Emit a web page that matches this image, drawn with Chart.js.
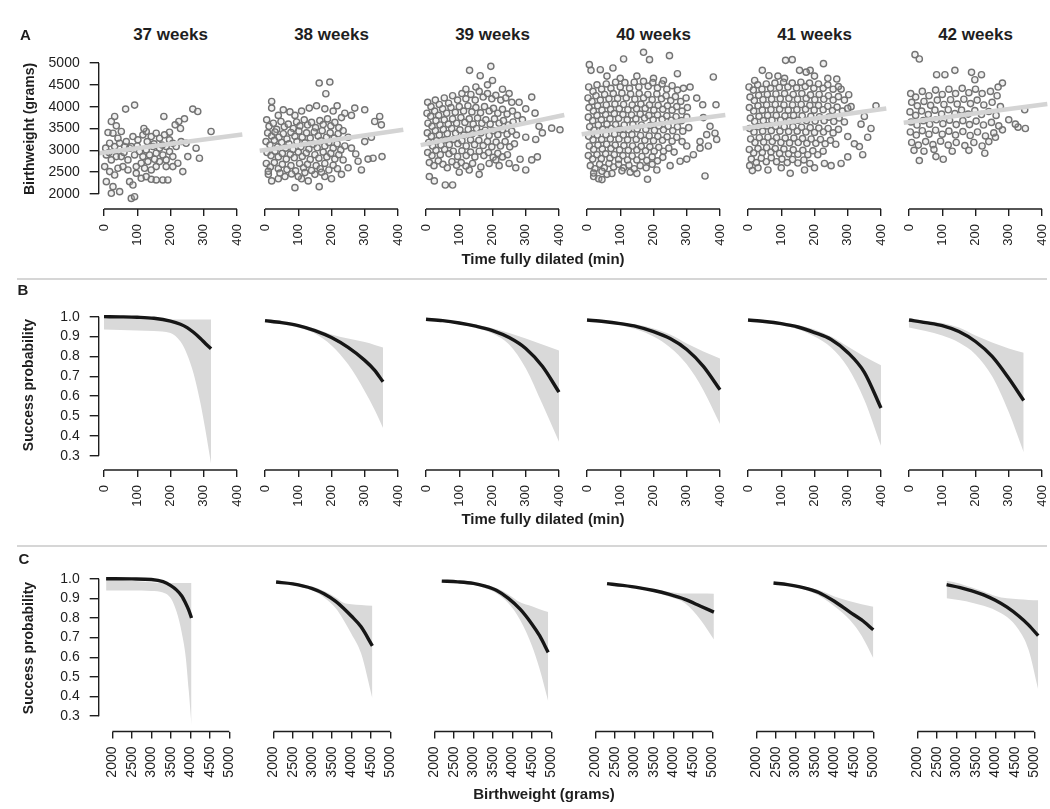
<!DOCTYPE html>
<html>
<head>
<meta charset="utf-8">
<script src="https://cdn.jsdelivr.net/npm/chart.js@4.4.0/dist/chart.umd.min.js"></script>
<style>
  body { margin: 0; width: 1050px; height: 809px; position: relative; overflow: hidden; background: #fff;
         font-family: "Liberation Sans", Arial, Helvetica, sans-serif; color: #1e1e1e; }
  .lbl { position: absolute; font-weight: bold; white-space: nowrap; line-height: 1; }
  .sep { position: absolute; left: 17px; width: 1030px; height: 2px; background: #d6d6d6; }
</style>
</head>
<body>
<div class="sep" style="top:278px"></div>
<div class="sep" style="top:545px"></div>
<script>
// ---- data ----
const weeks = ['37 weeks', '38 weeks', '39 weeks', '40 weeks', '41 weeks', '42 weeks'];
const timeTicks = [0, 100, 200, 300, 400];
const weightTicks = [2000, 2500, 3000, 3500, 4000, 4500, 5000];
const probTicks = [0.3, 0.4, 0.5, 0.6, 0.7, 0.8, 0.9, 1.0];

// panel A: time fully dilated (min) vs birthweight (g)
const pts37 = [[65,3944],[92,4036],[180,3776],[267,3944],[282,3890],[322,3431],[242,3722],[225,3660],[214,3584],[197,3416],
  [32,3776],[22,3660],[37,3561],[12,3408],[27,3393],[42,3278],[17,3163],[32,3087],[47,3163],[62,3087],[77,3049],[7,2895],
  [22,2781],[37,2857],[52,2857],[2,2628],[17,2513],[32,2436],[42,2590],[7,2283],[27,2169],[47,2054],[22,2016],[77,2283],
  [87,2207],[82,1900],[92,1939],[72,2551],[97,2474],[112,2360],[127,2398],[142,2337],[157,2322],[177,2322],[192,2322],
  [142,2551],[157,2628],[167,2742],[187,2781],[207,2857],[222,2704],[237,2513],[252,2857],[277,3049],[287,2819],
  [87,3316],[102,3240],[117,3355],[127,3431],[142,3316],[157,3393],[167,3278],[182,3355],[197,3240],[207,3163],[187,3087],
  [167,3049],[147,3087],[127,3010],[107,2972],[92,2895],[117,2857],[137,2895],[157,2934],[177,2895],[197,2972],[217,3087],
  [232,3202],[247,3163],[112,2704],[132,2742],[152,2796],[97,2628],[122,2590],[187,2628],[207,2628],[72,2781],[57,2628],
  [67,3202],[82,3087],[52,3431],[5,3050],[15,2950],[60,2950],[130,3200],[150,3150],[175,3120],[100,3100],[230,3500],[120,3500]];
const pts38 = [[163,4541],[195,4564],[183,4296],[20,4120],[20,3967],[55,3929],[133,3967],[155,4020],[217,4020],[270,3967],
  [300,3929],[345,3776],[330,3661],[350,3584],[110,3900],[75,3880],[90,3800],[40,3800],[180,3950],[205,3900],[240,3850],
  [260,3800],[230,3750],[325,2819],[352,2857],[290,2551],[273,2918],[163,2169],[90,2146],[20,2300],[10,2450],[40,2350],
  [60,2400],[110,2350],[130,2300],[150,2450],[180,2400],[200,2350],[230,2450],[250,2600],[310,2800],[280,2750],[260,3050],
  [300,3200],[320,3300],[250,3300],
  [5,3700],[12,3550],[25,3620],[35,3480],[48,3660],[58,3540],[70,3600],[85,3500],[95,3650],[105,3560],[118,3700],[128,3580],
  [140,3640],[152,3520],[165,3680],[175,3590],[188,3720],[198,3560],[210,3640],[222,3520],
  [8,3400],[20,3330],[30,3420],[42,3300],[55,3380],[66,3260],[78,3410],[90,3320],[102,3440],[112,3300],[125,3400],[136,3280],
  [148,3420],[160,3330],[172,3450],[185,3300],[196,3400],[208,3280],[220,3380],[235,3450],
  [3,3200],[15,3120],[28,3230],[38,3080],[50,3180],[62,3050],[72,3150],[84,3020],[96,3200],[108,3080],[120,3170],[132,3030],
  [145,3140],[157,3060],[168,3220],[180,3100],[192,3180],[205,3050],[217,3150],[228,3010],[240,3100],
  [6,2950],[18,2880],[30,2980],[40,2850],[52,2930],[64,2800],[76,2910],[88,2830],[100,2960],[112,2860],[124,2940],[136,2790],
  [150,2900],[162,2820],[175,2960],[186,2850],[198,2930],[210,2800],[222,2900],[235,2780],
  [4,2700],[16,2620],[28,2720],[40,2580],[52,2680],[66,2560],[78,2650],[92,2530],[104,2700],[116,2600],[128,2680],[140,2540],
  [154,2650],[166,2580],[180,2700],[192,2550],[205,2660],[218,2580],[10,2520],[45,2480],[80,2460],[120,2490],[170,2500],[100,2400]];
const pts39 = [[131,4832],[195,4923],[163,4709],[200,4600],[185,4500],[150,4450],[120,4400],[230,4400],[250,4300],[318,4219],
  [328,3852],[378,3508],[403,3470],[340,3550],[300,3950],[280,4100],[290,3700],[318,2781],[283,2796],[300,2550],[335,2850],
  [270,2600],[58,2207],[80,2207],[25,2300],[10,2400],[130,2550],[160,2450],[100,2500],[220,2650],[250,2700],[330,3250],
  [350,3400],[300,3300],
  [5,4100],[15,4000],[28,4150],[40,4050],[55,4200],[68,4080],[80,4250],[95,4150],[108,4300],[120,4180],[135,4280],[148,4150],
  [160,4350],[172,4220],[185,4300],[198,4180],[210,4260],[225,4150],[240,4200],[258,4100],
  [3,3850],[14,3780],[26,3900],[38,3800],[50,3950],[62,3850],[75,3980],[88,3870],[100,4000],[113,3900],[126,4020],[138,3880],
  [150,3980],[164,3860],[176,4000],[190,3900],[203,3960],[216,3850],[230,3940],[244,3830],[260,3900],[275,3800],
  [6,3620],[18,3550],[30,3680],[42,3580],[55,3700],[67,3600],[80,3720],[92,3620],[105,3750],[117,3640],[130,3720],[142,3600],
  [155,3740],[168,3620],[180,3700],[193,3600],[206,3720],[220,3620],[233,3680],[248,3580],[262,3650],
  [4,3400],[16,3320],[28,3450],[40,3350],[52,3480],[64,3380],[77,3500],[89,3390],[102,3470],[114,3350],[127,3480],[139,3380],
  [152,3500],[165,3400],[178,3460],[190,3340],[203,3450],[216,3360],[230,3470],[244,3370],[258,3440],[272,3350],
  [8,3180],[20,3100],[32,3220],[45,3120],[58,3240],[70,3130],[83,3250],[96,3150],[108,3220],[121,3100],[134,3240],[146,3130],
  [159,3230],[172,3110],[185,3200],[198,3080],[211,3190],[224,3100],[238,3200],[252,3080],[266,3150],
  [5,2950],[18,2880],[30,3000],[43,2900],[56,3020],[69,2920],[82,2980],[95,2860],[108,2990],[121,2880],[134,2960],[147,2850],
  [160,2980],[174,2880],[188,2950],[202,2840],[216,2930],[230,2850],[245,2900],
  [10,2720],[24,2650],[37,2760],[51,2680],[64,2600],[78,2740],[92,2660],[106,2720],[120,2640],[140,2700],[165,2620],[190,2700],[210,2780]];
const pts40 = [[7,4962],[12,4832],[40,4847],[78,4885],[110,5092],[170,5245],[188,5077],[248,5168],[272,4755],[380,4679],
  [310,4449],[330,4196],[348,4043],[388,4043],[350,3750],[370,3550],[385,3393],[360,3360],[340,3200],[355,2413],[182,2337],
  [20,2400],[35,2350],[45,2330],[60,2450],[130,2500],[150,2470],[210,2550],[250,2650],[280,2750],[300,2800],[320,2900],
  [340,3050],[365,3100],[390,3250],[300,3100],[100,4650],[150,4700],[200,4650],[230,4600],[60,4700],
  [5,4450],[18,4350],[30,4500],[44,4400],[58,4520],[72,4420],[86,4560],[100,4450],[114,4550],[128,4420],[142,4560],[156,4450],
  [170,4580],[184,4470],[198,4550],[212,4430],[226,4520],[240,4400],[256,4480],[272,4380],[290,4420],
  [3,4200],[15,4120],[27,4250],[40,4150],[53,4280],[66,4180],[79,4300],[92,4190],[105,4310],[118,4200],[131,4290],[144,4170],
  [157,4300],[170,4200],[183,4280],[196,4160],[210,4290],[224,4180],[238,4250],[252,4140],[266,4230],[282,4120],[298,4200],
  [6,3980],[19,3900],[32,4020],[45,3920],[58,4040],[71,3940],[84,4060],[97,3950],[110,4050],[123,3930],[136,4040],[149,3950],
  [162,4060],[175,3960],[188,4040],[201,3920],[214,4030],[228,3940],[242,4020],[256,3920],[270,4000],[286,3900],[302,3980],
  [4,3760],[17,3680],[30,3800],[43,3700],[56,3820],[69,3720],[82,3840],[95,3730],[108,3820],[121,3700],[134,3810],[147,3720],
  [160,3830],[173,3740],[186,3800],[199,3700],[212,3810],[226,3710],[240,3790],[254,3690],[268,3770],[284,3680],[300,3760],
  [8,3540],[21,3460],[34,3580],[47,3480],[60,3600],[73,3500],[86,3590],[99,3480],[112,3580],[125,3470],[138,3590],[151,3490],
  [164,3580],[177,3480],[190,3570],[203,3460],[216,3560],[230,3470],[244,3550],[258,3450],[272,3540],[288,3440],[306,3520],
  [5,3320],[18,3240],[31,3350],[44,3250],[57,3360],[70,3260],[83,3370],[96,3260],[109,3350],[122,3240],[135,3360],[148,3250],
  [161,3340],[174,3230],[187,3330],[200,3220],[213,3320],[227,3230],[241,3310],[256,3210],[270,3300],[286,3200],
  [7,3100],[20,3020],[33,3120],[46,3030],[59,3140],[72,3040],[85,3120],[98,3010],[111,3110],[124,3000],[137,3100],[150,3010],
  [163,3090],[176,2990],[189,3080],[202,2980],[216,3070],[230,2980],[246,3050],[262,2960],
  [4,2880],[17,2800],[30,2900],[43,2810],[56,2920],[69,2820],[82,2900],[95,2790],[108,2880],[122,2780],[136,2870],[150,2780],
  [165,2860],[180,2770],[196,2850],[212,2760],[228,2840],
  [10,2650],[24,2580],[38,2680],[52,2600],[66,2700],[80,2620],[95,2680],[110,2600],[126,2660],[142,2580],[160,2650],[178,2600],
  [196,2680],[20,2480],[45,2520],[75,2470],[105,2530]];
const pts41 = [[113,5061],[133,5077],[227,4985],[43,4832],[63,4709],[155,4832],[187,4832],[175,4790],[267,4633],[303,4273],
  [385,4020],[350,3776],[340,3600],[370,3500],[360,3300],[335,3087],[300,3316],[320,3150],[345,2900],[300,2850],[280,2700],
  [250,2650],[127,2474],[13,2536],[5,2650],[30,2600],[60,2550],[100,2600],[170,2550],[200,2600],[230,2700],[90,4700],
  [110,4650],[200,4700],[240,4650],[20,4600],[280,4400],[310,4000],
  [3,4450],[16,4380],[29,4500],[42,4400],[55,4520],[68,4420],[81,4540],[94,4440],[107,4560],[120,4450],[133,4540],[146,4430],
  [159,4560],[172,4460],[185,4540],[198,4420],[212,4520],[226,4420],[240,4500],[256,4400],[272,4460],
  [6,4220],[19,4140],[32,4260],[45,4160],[58,4280],[71,4170],[84,4290],[97,4180],[110,4300],[123,4190],[136,4280],[149,4170],
  [162,4300],[175,4190],[188,4270],[201,4160],[214,4280],[228,4170],[242,4250],[256,4150],[272,4230],[290,4150],
  [4,3980],[17,3900],[30,4020],[43,3920],[56,4040],[69,3930],[82,4050],[95,3940],[108,4040],[121,3920],[134,4040],[147,3930],
  [160,4050],[173,3940],[186,4030],[199,3920],[212,4030],[226,3930],[240,4010],[254,3910],[268,3990],[284,3900],[300,3960],
  [7,3740],[20,3660],[33,3780],[46,3680],[59,3800],[72,3690],[85,3800],[98,3690],[111,3790],[124,3680],[137,3800],[150,3690],
  [163,3790],[176,3680],[189,3780],[202,3670],[215,3770],[229,3680],[243,3760],[258,3660],[274,3740],[290,3650],
  [5,3500],[18,3420],[31,3540],[44,3440],[57,3560],[70,3450],[83,3550],[96,3440],[109,3540],[122,3430],[135,3540],[148,3440],
  [161,3530],[174,3420],[187,3520],[200,3410],[213,3510],[227,3420],[241,3500],[256,3400],[272,3480],
  [8,3260],[21,3180],[34,3290],[47,3190],[60,3300],[73,3200],[86,3290],[99,3180],[112,3280],[125,3170],[138,3280],[151,3180],
  [164,3270],[177,3160],[190,3260],[204,3160],[218,3250],[232,3150],[248,3230],[264,3140],
  [4,3020],[17,2940],[30,3040],[43,2950],[56,3060],[69,2960],[82,3040],[95,2930],[108,3030],[122,2920],[136,3010],[150,2910],
  [165,3000],[180,2900],[195,2990],[210,2900],[226,2980],
  [10,2800],[25,2720],[40,2820],[55,2740],[70,2830],[86,2740],[102,2800],[118,2720],[134,2790],[150,2710],[168,2780],[186,2700]];
const pts42 = [[18,5191],[31,5092],[83,4732],[108,4732],[138,4832],[188,4786],[218,4732],[198,4617],[281,4541],[268,4449],
  [348,3929],[328,3531],[350,3500],[281,3469],[228,2934],[31,2766],[81,2857],[103,2796],[240,3200],[260,3300],[300,3700],[320,3600],
  [5,4300],[20,4220],[40,4350],[60,4250],[80,4380],[100,4280],[120,4400],[140,4300],[160,4420],[180,4320],[200,4400],[220,4300],
  [245,4350],[265,4250],
  [8,4100],[25,4020],[45,4120],[65,4030],[85,4150],[105,4050],[125,4160],[145,4060],[165,4170],[185,4070],[205,4150],[225,4040],
  [250,4100],[275,4000],
  [3,3880],[20,3800],[38,3900],[58,3820],[78,3920],[98,3830],[118,3930],[138,3840],[158,3920],[178,3830],[198,3910],[218,3820],
  [240,3890],[262,3800],
  [6,3650],[24,3580],[43,3680],[62,3600],[82,3700],[102,3610],[122,3690],[142,3590],[162,3680],[182,3590],[202,3670],[224,3580],
  [248,3640],[270,3560],
  [4,3420],[22,3350],[40,3450],[60,3370],[80,3460],[100,3370],[120,3440],[140,3350],[162,3430],[184,3340],[206,3420],[230,3330],[255,3400],
  [8,3180],[28,3120],[50,3200],[72,3130],[95,3210],[118,3120],[142,3180],[168,3110],[195,3180],[220,3100],
  [15,3000],[45,2980],[75,3020],[130,2980],[180,3000]];
const scatterPts = [pts37, pts38, pts39, pts40, pts41, pts42];
// fitted regression line, evaluated at the two ends of the time range
const trendTime = [-16, 416];
const trendStart = [2935, 2990, 3120, 3370, 3500, 3630];
const trendEnd = [3365, 3470, 3810, 3810, 3960, 4060];

// panel B: success probability vs time fully dilated
const bTime = [
  [0, 50, 100, 150, 200, 230, 250, 270, 290, 305, 322],
  [0, 50, 100, 150, 200, 250, 300, 330, 355],
  [0, 50, 100, 150, 200, 250, 300, 350, 400],
  [0, 50, 100, 150, 200, 250, 300, 350, 400],
  [0, 50, 100, 150, 200, 250, 300, 350, 400],
  [0, 50, 100, 150, 200, 250, 300, 345]];
const bFit = [
  [1.0, 0.999, 0.997, 0.992, 0.978, 0.962, 0.945, 0.92, 0.89, 0.865, 0.838],
  [0.98, 0.97, 0.955, 0.93, 0.895, 0.845, 0.78, 0.73, 0.672],
  [0.987, 0.98, 0.968, 0.952, 0.93, 0.895, 0.84, 0.75, 0.62],
  [0.983, 0.976, 0.965, 0.95, 0.925, 0.89, 0.835, 0.75, 0.632],
  [0.983, 0.976, 0.965, 0.948, 0.92, 0.885, 0.82, 0.72, 0.54],
  [0.983, 0.97, 0.955, 0.925, 0.875, 0.8, 0.69, 0.578]];
const bUpper = [
  [0.999, 0.995, 0.99, 0.987, 0.986, 0.986, 0.986, 0.986, 0.986, 0.986, 0.986],
  [0.985, 0.975, 0.962, 0.94, 0.91, 0.89, 0.872, 0.858, 0.845],
  [0.99, 0.984, 0.974, 0.96, 0.942, 0.918, 0.89, 0.86, 0.83],
  [0.988, 0.982, 0.972, 0.96, 0.94, 0.91, 0.865, 0.825, 0.79],
  [0.988, 0.982, 0.972, 0.958, 0.935, 0.9, 0.85, 0.8, 0.755],
  [0.99, 0.98, 0.968, 0.945, 0.905, 0.87, 0.84, 0.818]];
const bLower = [
  [0.935, 0.933, 0.931, 0.928, 0.918, 0.875, 0.81, 0.71, 0.565, 0.43, 0.26],
  [0.97, 0.962, 0.945, 0.915, 0.855, 0.76, 0.625, 0.53, 0.44],
  [0.982, 0.975, 0.962, 0.943, 0.915, 0.86, 0.74, 0.56, 0.37],
  [0.978, 0.97, 0.957, 0.935, 0.9, 0.845, 0.76, 0.63, 0.46],
  [0.978, 0.97, 0.957, 0.937, 0.9, 0.845, 0.745, 0.58, 0.35],
  [0.946, 0.928, 0.905, 0.87, 0.81, 0.7, 0.52, 0.317]];

// panel C: success probability vs birthweight
const cWeight = [
  [1840, 2500, 3000, 3300, 3500, 3650, 3780, 3880, 3960, 4030],
  [2070, 2500, 3000, 3300, 3600, 3800, 4000, 4250, 4540],
  [2190, 2600, 3000, 3300, 3600, 3900, 4200, 4500, 4700, 4920],
  [2300, 2700, 3100, 3500, 3900, 4300, 4700, 5040],
  [2440, 2800, 3200, 3600, 4000, 4400, 4700, 5000],
  [2750, 3100, 3400, 3700, 4000, 4300, 4600, 4850, 5100]];
const cFit = [
  [1.0, 0.999, 0.996, 0.985, 0.965, 0.942, 0.912, 0.875, 0.84, 0.80],
  [0.983, 0.974, 0.95, 0.924, 0.885, 0.85, 0.81, 0.755, 0.658],
  [0.988, 0.984, 0.976, 0.962, 0.94, 0.9, 0.845, 0.77, 0.71, 0.625],
  [0.975, 0.966, 0.955, 0.94, 0.92, 0.895, 0.86, 0.83],
  [0.978, 0.97, 0.955, 0.93, 0.885, 0.83, 0.79, 0.74],
  [0.97, 0.955, 0.938, 0.918, 0.89, 0.855, 0.81, 0.765, 0.71]];
const cUpper = [
  [0.999, 0.99, 0.982, 0.978, 0.978, 0.978, 0.978, 0.978, 0.978, 0.978],
  [0.987, 0.98, 0.96, 0.937, 0.905, 0.878, 0.87, 0.866, 0.862],
  [0.99, 0.987, 0.98, 0.97, 0.952, 0.92, 0.88, 0.86, 0.845, 0.831],
  [0.978, 0.97, 0.96, 0.948, 0.933, 0.925, 0.925, 0.924],
  [0.981, 0.975, 0.962, 0.942, 0.91, 0.885, 0.87, 0.857],
  [0.99, 0.975, 0.955, 0.935, 0.912, 0.9, 0.895, 0.892, 0.89]];
const cLower = [
  [0.94, 0.94, 0.938, 0.93, 0.9, 0.83, 0.725, 0.604, 0.43, 0.255],
  [0.978, 0.967, 0.94, 0.905, 0.85, 0.79, 0.72, 0.62, 0.39],
  [0.985, 0.98, 0.97, 0.952, 0.925, 0.875, 0.79, 0.66, 0.54, 0.376],
  [0.971, 0.962, 0.95, 0.932, 0.908, 0.875, 0.79, 0.69],
  [0.975, 0.965, 0.947, 0.915, 0.86, 0.79, 0.71, 0.595],
  [0.9, 0.89, 0.878, 0.862, 0.84, 0.805, 0.74, 0.64, 0.435]];

// ---- layout ----
const ink = '#1e1e1e';
const family = '"Liberation Sans", Arial, Helvetica, sans-serif';
const geo = {
  colLeft: 98.7, colStep: 161, areaW: 143.6,
  rows: [{top: 49.9, bottom: 209}, {top: 312.7, bottom: 470}, {top: 574.8, bottom: 731.5}],
  yAxisW: 60, xAxisH: 62
};

function label(text, x, y, size, rotate) {
  const d = document.createElement('div');
  d.className = 'lbl';
  d.textContent = text;
  d.style.left = x + 'px';
  d.style.top = y + 'px';
  d.style.fontSize = size + 'px';
  d.style.transform = 'translate(-50%,-50%)' + (rotate ? ' rotate(-90deg)' : '');
  document.body.appendChild(d);
}

// R style axis line: only from first to last tick
const axisLines = {
  id: 'axisLines',
  afterDraw(chart) {
    const {ctx, chartArea, scales: {x, y}} = chart;
    ctx.save();
    ctx.strokeStyle = ink;
    ctx.lineWidth = 1.4;
    ctx.beginPath();
    ctx.moveTo(x.getPixelForValue(x.ticks[0].value), chartArea.bottom);
    ctx.lineTo(x.getPixelForValue(x.ticks[x.ticks.length - 1].value), chartArea.bottom);
    if (y.options.display) {
      ctx.moveTo(chartArea.left, y.getPixelForValue(y.ticks[0].value));
      ctx.lineTo(chartArea.left, y.getPixelForValue(y.ticks[y.ticks.length - 1].value));
    }
    ctx.stroke();
    ctx.restore();
  }
};

const setTicks = vals => s => { s.ticks = vals.map(v => ({value: v})); };
const noPad = s => { s.paddingLeft = s.paddingRight = s.paddingTop = s.paddingBottom = 0; };

function makePanel(r, c, type, datasets, xRange, yRange, xTicks, yTicks, xSize, yFmt) {
  const showY = c === 0;
  const left = geo.colLeft + geo.colStep * c, right = left + geo.areaW;
  const {top, bottom} = geo.rows[r];
  const cl = Math.floor(left) - 70, ct = Math.floor(top) - 8;
  const cw = Math.ceil(right) + 8 - cl, ch = Math.ceil(bottom) + 72 - ct;
  const cv = document.createElement('canvas');
  cv.width = cw; cv.height = ch;
  cv.style.cssText = `position:absolute;left:${cl}px;top:${ct}px;width:${cw}px;height:${ch}px`;
  document.body.appendChild(cv);
  new Chart(cv, {
    type,
    data: {datasets},
    options: {
      responsive: false,
      animation: false,
      events: [],
      layout: {padding: {left: left - cl - (showY ? geo.yAxisW : 0), right: cl + cw - right,
                         top: top - ct, bottom: ct + ch - bottom - geo.xAxisH}},
      plugins: {legend: {display: false}, tooltip: {enabled: false}},
      scales: {
        x: {
          type: 'linear', min: xRange[0], max: xRange[1],
          afterBuildTicks: setTicks(xTicks),
          afterFit: s => { s.height = geo.xAxisH; noPad(s); },
          border: {display: false},
          grid: {drawOnChartArea: false, color: ink, lineWidth: 1.4, tickLength: 7},
          ticks: {autoSkip: false, minRotation: 90, maxRotation: 90, padding: 8, color: ink,
                  font: {family, size: xSize}, callback: v => String(v)}
        },
        y: {
          type: 'linear', display: showY, min: yRange[0], max: yRange[1],
          afterBuildTicks: setTicks(yTicks),
          afterFit: showY ? s => { s.width = geo.yAxisW; noPad(s); } : undefined,
          border: {display: false},
          grid: {drawOnChartArea: false, color: ink, lineWidth: 1.4, tickLength: 9},
          ticks: {autoSkip: false, padding: 10, color: ink, font: {family, size: 14}, callback: yFmt}
        }
      }
    },
    plugins: [axisLines]
  });
}

function curveSets(xs, fit, up, lo) {
  const pts = arr => arr.map((v, i) => ({x: xs[i], y: v}));
  const base = {pointRadius: 0, cubicInterpolationMode: 'monotone', clip: false};
  return [
    {...base, data: pts(fit), borderColor: '#161616', borderWidth: 3.4, fill: false, order: 0},
    {...base, data: pts(up), borderColor: 'rgba(0,0,0,0)', borderWidth: 0, backgroundColor: '#d9d9d9', fill: '+1', order: 1},
    {...base, data: pts(lo), borderColor: 'rgba(0,0,0,0)', borderWidth: 0, fill: false, order: 2}
  ];
}

const probFmt = v => v.toFixed(1);
const intFmt = v => String(v);

weeks.forEach((w, i) => {
  label(w, 170.5 + geo.colStep * i, 33.5, 17);

  makePanel(0, i, 'scatter', [
    {data: trendTime.map((t, k) => ({x: t, y: k ? trendEnd[i] : trendStart[i]})), showLine: true,
     borderColor: '#d4d4d4', borderWidth: 4.5, pointRadius: 0, order: 0, clip: false},
    {data: scatterPts[i].map(p => ({x: p[0], y: p[1]})), pointRadius: 3.1, pointBorderWidth: 1.4,
     borderColor: '#737373', backgroundColor: 'rgba(200,200,200,0.25)', order: 1, clip: false}
  ], [-16, 416], [1657, 5300], timeTicks, weightTicks, 13, intFmt);

  makePanel(1, i, 'line', curveSets(bTime[i], bFit[i], bUpper[i], bLower[i]),
    [-16, 416], [0.228, 1.02], timeTicks, probTicks, 13, probFmt);

  makePanel(2, i, 'line', curveSets(cWeight[i], cFit[i], cUpper[i], cLower[i]),
    [1650, 5333], [0.222, 1.02], weightTicks, probTicks, 14, probFmt);
});

label('A', 25.5, 33.5, 15);
label('B', 23, 288.5, 15);
label('C', 24, 557.5, 15);
label('Birthweight (grams)', 29, 129, 14, true);
label('Success probability', 28, 385, 14, true);
label('Success probability', 28, 647.5, 14, true);
label('Time fully dilated (min)', 543, 258, 15);
label('Time fully dilated (min)', 543, 518, 15);
label('Birthweight (grams)', 544, 793, 15);
</script>
</body>
</html>
